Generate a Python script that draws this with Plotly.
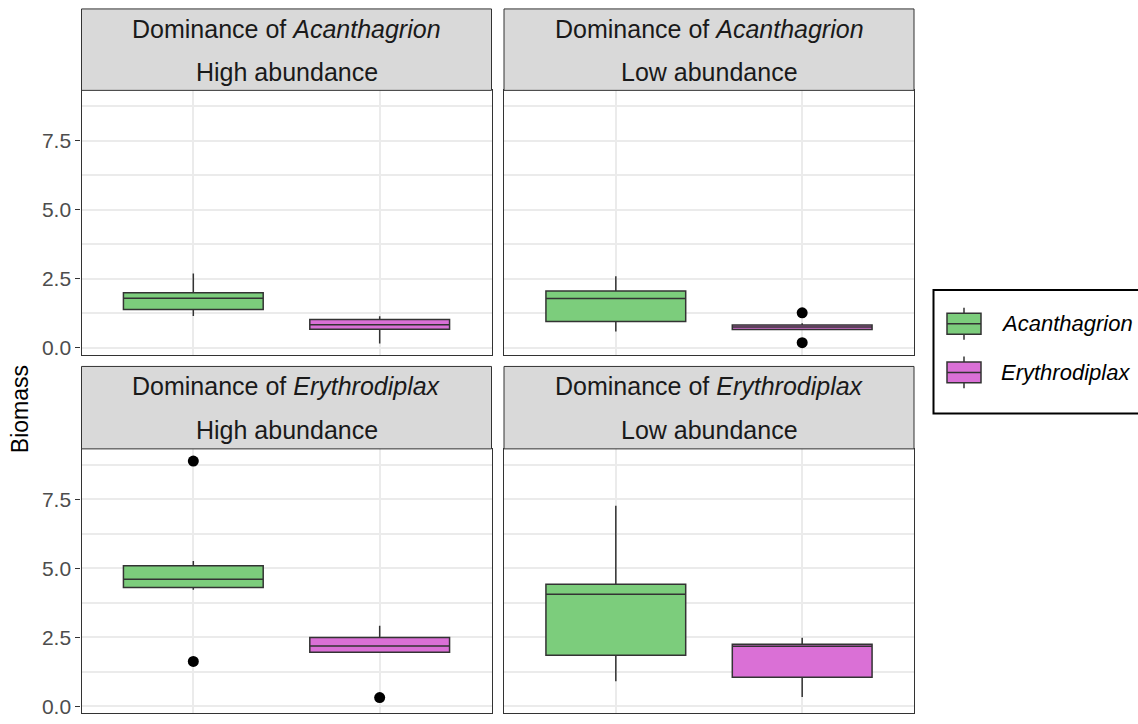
import plotly.graph_objects as go

W, H = 1138, 724

# Facet labels
dominance = ["Acanthagrion", "Acanthagrion", "Erythrodiplax", "Erythrodiplax"]
abundance = ["High abundance", "Low abundance", "High abundance", "Low abundance"]

# Species on the x axis
species = ["Acanthagrion", "Erythrodiplax"]
fill_colors = ["#7CCD7C", "#DA70D6"]

# Box statistics per facet (order as in the facet lists above)
acan_lower = [1.16, 0.59, 4.23, 0.91]
acan_q1 = [1.39, 0.96, 4.31, 1.85]
acan_median = [1.80, 1.79, 4.61, 4.06]
acan_q3 = [2.00, 2.06, 5.10, 4.43]
acan_upper = [2.70, 2.60, 5.27, 7.27]
acan_outliers = [[], [], [8.89, 1.63], []]

ery_lower = [0.16, 0.67, 1.96, 0.34]
ery_q1 = [0.68, 0.67, 1.96, 1.06]
ery_median = [0.84, 0.76, 2.19, 2.18]
ery_q3 = [1.03, 0.83, 2.50, 2.25]
ery_upper = [1.15, 0.89, 2.92, 2.49]
ery_outliers = [[], [1.27, 0.19], [0.32], []]

y_ticks = [0.0, 2.5, 5.0, 7.5]
y_range = [-0.24, 9.33]

stats = [
    (acan_lower, acan_q1, acan_median, acan_q3, acan_upper, acan_outliers),
    (ery_lower, ery_q1, ery_median, ery_q3, ery_upper, ery_outliers),
]

FONT = "Liberation Sans, Arial, sans-serif"
DARK = "#333333"
GRID = "#EBEBEB"


def px_x(px):
    return px / W


def px_y(py):
    return 1 - py / H


col_px = [(81.5, 491.5), (504, 914)]
row_px = [(91, 357), (452, 718)]
strip_px = [(9, 91), (369, 452)]

fig = go.Figure()
shapes = []
annotations = []

for i in range(4):
    r, c = divmod(i, 2)
    n = "" if i == 0 else str(i + 1)
    xa, ya = "x" + n, "y" + n

    for j, sp in enumerate(species):
        lo, q1, med, q3, hi, outs = stats[j]
        fig.add_trace(go.Box(
            x=[j + 1], lowerfence=[lo[i]], q1=[q1[i]], median=[med[i]],
            q3=[q3[i]], upperfence=[hi[i]], orientation="v",
            width=0.75, whiskerwidth=0, boxpoints=False,
            fillcolor=fill_colors[j], line=dict(color=DARK, width=1.5),
            name=sp, showlegend=False, xaxis=xa, yaxis=ya,
        ))
        if outs[i]:
            fig.add_trace(go.Scatter(
                x=[j + 1] * len(outs[i]), y=outs[i], mode="markers",
                marker=dict(color="black", size=11, line=dict(width=0)),
                showlegend=False, xaxis=xa, yaxis=ya,
            ))

    x0, x1 = col_px[c]
    y0, y1 = row_px[r]
    fig.layout["xaxis" + n] = dict(
        domain=[px_x(x0), px_x(x1)], range=[0.4, 2.6], anchor=ya,
        tickvals=[1, 2], showticklabels=False, ticks="",
        showgrid=True, gridcolor=GRID, gridwidth=2, zeroline=False,
        showline=True, mirror=True, linecolor=DARK, linewidth=1.3,
    )
    fig.layout["yaxis" + n] = dict(
        domain=[px_y(y1), px_y(y0)], range=y_range, anchor=xa,
        tickvals=y_ticks, tickformat=".1f",
        showticklabels=(c == 0), ticks="outside" if c == 0 else "",
        ticklen=5, tickwidth=1.3, tickcolor=DARK,
        tickfont=dict(family=FONT, size=21, color="#4D4D4D"),
        showgrid=True, gridcolor=GRID, gridwidth=2, zeroline=False,
        minor=dict(dtick=1.25, tick0=0, showgrid=True, gridcolor=GRID,
                   gridwidth=1.7, ticks=""),
        showline=True, mirror=True, linecolor=DARK, linewidth=1.3,
    )

    # strip header
    s0, s1 = strip_px[r]
    shapes.append(dict(
        type="rect", xref="paper", yref="paper",
        x0=px_x(x0), x1=px_x(x1), y0=px_y(s1), y1=px_y(s0),
        fillcolor="#D9D9D9", line=dict(color=DARK, width=1), layer="above",
    ))
    xc = px_x((x0 + x1) / 2)
    annotations.append(dict(
        x=xc, y=px_y(s0 + 20), xref="paper", yref="paper",
        text=f"Dominance of <i>{dominance[i]}</i>", showarrow=False,
        xanchor="center", yanchor="middle",
        font=dict(family=FONT, size=25, color="#1A1A1A"),
    ))
    annotations.append(dict(
        x=xc, y=px_y(s0 + 64), xref="paper", yref="paper",
        text=abundance[i], showarrow=False,
        xanchor="center", yanchor="middle",
        font=dict(family=FONT, size=25, color="#1A1A1A"),
    ))

# y axis title
annotations.append(dict(
    x=px_x(20), y=px_y(412), xref="paper", yref="paper", text="Biomass",
    textangle=-90, showarrow=False, xanchor="center", yanchor="middle",
    font=dict(family=FONT, size=23, color="black"),
))

# legend
shapes.append(dict(
    type="rect", xref="paper", yref="paper",
    x0=px_x(933.5), x1=px_x(1145), y0=px_y(416.5), y1=px_y(292),
    line=dict(color="black", width=2), fillcolor="white",
))
key_rows = [326, 375]
for j, sp in enumerate(species):
    yc = key_rows[j]
    shapes.append(dict(
        type="line", xref="paper", yref="paper",
        x0=px_x(964), x1=px_x(964), y0=px_y(yc + 16), y1=px_y(yc - 16),
        line=dict(color=DARK, width=1.5),
    ))
    shapes.append(dict(
        type="rect", xref="paper", yref="paper",
        x0=px_x(947), x1=px_x(981), y0=px_y(yc + 10.5), y1=px_y(yc - 10.5),
        fillcolor=fill_colors[j], line=dict(color=DARK, width=1.5),
    ))
    shapes.append(dict(
        type="line", xref="paper", yref="paper",
        x0=px_x(947), x1=px_x(981), y0=px_y(yc), y1=px_y(yc),
        line=dict(color=DARK, width=1.5),
    ))
    annotations.append(dict(
        x=px_x(999), y=px_y(yc), xref="paper", yref="paper",
        text=f"<i>{sp}</i>", showarrow=False,
        xanchor="left", yanchor="middle",
        font=dict(family=FONT, size=22, color="black"),
    ))

fig.update_layout(
    width=W, height=H, margin=dict(l=0, r=0, t=0, b=0),
    paper_bgcolor="white", plot_bgcolor="white",
    boxmode="overlay", showlegend=False,
    shapes=shapes, annotations=annotations,
)

fig.write_html("out.html")
